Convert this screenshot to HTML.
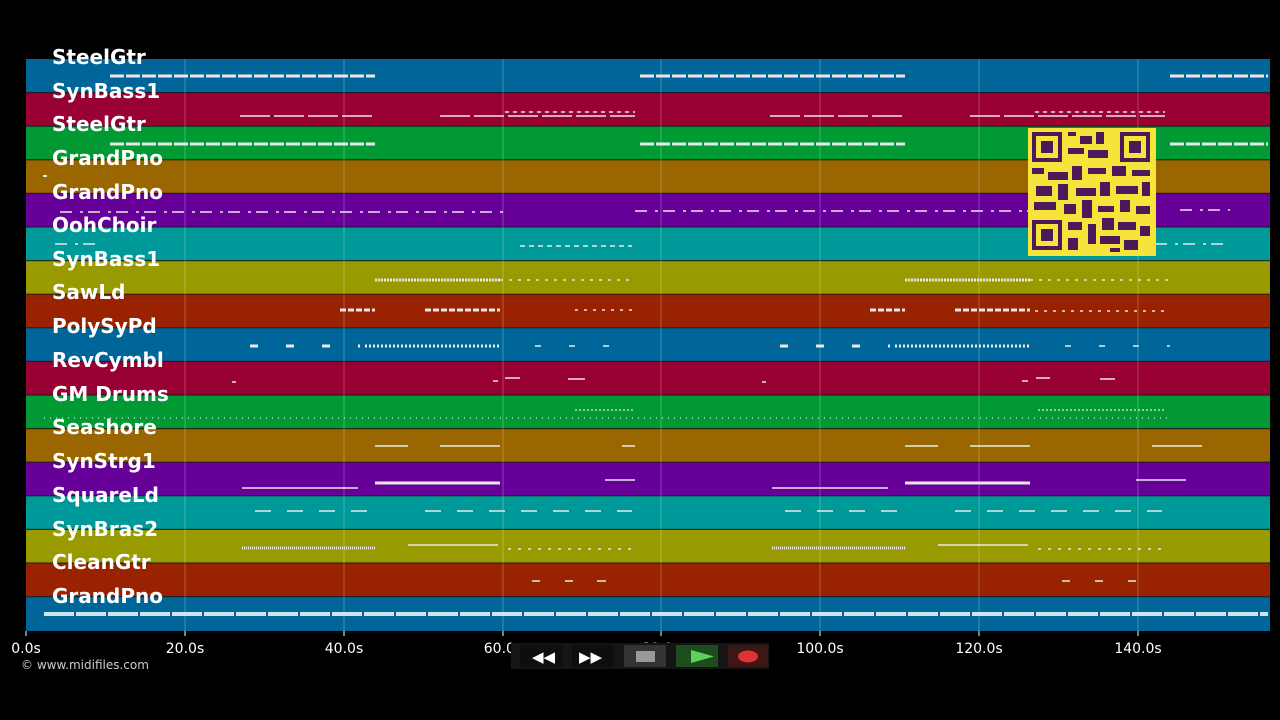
<!DOCTYPE html>
<html><head><meta charset="utf-8"><style>
html,body{margin:0;padding:0;background:#000;width:1280px;height:720px;overflow:hidden}
svg{display:block}
</style></head><body>
<svg width="1280" height="720" xmlns="http://www.w3.org/2000/svg" font-family="'DejaVu Sans','Liberation Sans',sans-serif">
<rect width="1280" height="720" fill="#000"/>
<g id="bands">
<rect x="26" y="59" width="1244" height="33.6" fill="#006699"/>
<rect x="26" y="92.6" width="1244" height="33.6" fill="#990033"/>
<rect x="26" y="126.2" width="1244" height="33.6" fill="#009933"/>
<rect x="26" y="159.8" width="1244" height="33.6" fill="#996600"/>
<rect x="26" y="193.4" width="1244" height="33.6" fill="#660099"/>
<rect x="26" y="227" width="1244" height="33.6" fill="#009999"/>
<rect x="26" y="260.6" width="1244" height="33.6" fill="#999900"/>
<rect x="26" y="294.2" width="1244" height="33.6" fill="#992200"/>
<rect x="26" y="327.8" width="1244" height="33.6" fill="#006699"/>
<rect x="26" y="361.4" width="1244" height="33.6" fill="#990033"/>
<rect x="26" y="395" width="1244" height="33.6" fill="#009933"/>
<rect x="26" y="428.6" width="1244" height="33.6" fill="#996600"/>
<rect x="26" y="462.2" width="1244" height="33.6" fill="#660099"/>
<rect x="26" y="495.8" width="1244" height="33.6" fill="#009999"/>
<rect x="26" y="529.4" width="1244" height="33.6" fill="#999900"/>
<rect x="26" y="563" width="1244" height="33.6" fill="#992200"/>
<rect x="26" y="596.6" width="1244" height="34.4" fill="#006699"/>
</g>
<g stroke="#1a1a1a" stroke-width="1.2" opacity="0.8">
<line x1="26" x2="1270" y1="92.6" y2="92.6"/><line x1="26" x2="1270" y1="126.2" y2="126.2"/><line x1="26" x2="1270" y1="159.8" y2="159.8"/><line x1="26" x2="1270" y1="193.4" y2="193.4"/><line x1="26" x2="1270" y1="227" y2="227"/><line x1="26" x2="1270" y1="260.6" y2="260.6"/><line x1="26" x2="1270" y1="294.2" y2="294.2"/><line x1="26" x2="1270" y1="327.8" y2="327.8"/><line x1="26" x2="1270" y1="361.4" y2="361.4"/><line x1="26" x2="1270" y1="395" y2="395"/><line x1="26" x2="1270" y1="428.6" y2="428.6"/><line x1="26" x2="1270" y1="462.2" y2="462.2"/><line x1="26" x2="1270" y1="495.8" y2="495.8"/><line x1="26" x2="1270" y1="529.4" y2="529.4"/><line x1="26" x2="1270" y1="563" y2="563"/><line x1="26" x2="1270" y1="596.6" y2="596.6"/>
</g>
<g stroke="#ffffff" stroke-opacity="0.25" stroke-width="1">
<line x1="185" x2="185" y1="59" y2="631"/><line x1="344" x2="344" y1="59" y2="631"/><line x1="503" x2="503" y1="59" y2="631"/><line x1="661" x2="661" y1="59" y2="631"/><line x1="820" x2="820" y1="59" y2="631"/><line x1="979" x2="979" y1="59" y2="631"/><line x1="1138" x2="1138" y1="59" y2="631"/>
</g>
<g stroke="#e8e8e8" fill="none" stroke-linecap="butt">
<g stroke-width="3" stroke-dasharray="14 2">
<line x1="110" x2="375" y1="76" y2="76"/><line x1="640" x2="905" y1="76" y2="76"/><line x1="1170" x2="1268" y1="76" y2="76"/>
<line x1="110" x2="375" y1="144" y2="144"/><line x1="640" x2="905" y1="144" y2="144"/><line x1="1170" x2="1268" y1="144" y2="144"/>
</g>
<g stroke-width="1.5" stroke-dasharray="30 4">
<line x1="240" x2="375" y1="116" y2="116"/><line x1="440" x2="635" y1="116" y2="116"/><line x1="770" x2="905" y1="116" y2="116"/><line x1="970" x2="1165" y1="116" y2="116"/>
</g>
<g stroke-width="1.5" stroke-dasharray="4 4">
<line x1="505" x2="635" y1="112" y2="112"/><line x1="1035" x2="1165" y1="112" y2="112"/>
</g>
<line x1="43" x2="47" y1="176" y2="176" stroke-width="2"/>
<g stroke-width="1.5" stroke-dasharray="12 8 3 5">
<line x1="60" x2="505" y1="212" y2="212"/><line x1="635" x2="1030" y1="211" y2="211"/><line x1="1180" x2="1230" y1="210" y2="210"/>
<line x1="55" x2="100" y1="244" y2="244"/><line x1="1155" x2="1230" y1="244" y2="244"/>
</g>
<line x1="520" x2="632" y1="246" y2="246" stroke-width="1.5" stroke-dasharray="5 4"/>
<g stroke-width="3" stroke-dasharray="2 1">
<line x1="375" x2="500" y1="280" y2="280"/><line x1="905" x2="1030" y1="280" y2="280"/>
</g>
<g stroke-width="1.5" stroke-dasharray="3 6">
<line x1="500" x2="635" y1="280" y2="280"/><line x1="1030" x2="1170" y1="280" y2="280"/>
<line x1="575" x2="635" y1="310" y2="310"/><line x1="1035" x2="1170" y1="311" y2="311"/>
</g>
<g stroke-width="3" stroke-dasharray="6 2">
<line x1="340" x2="375" y1="310" y2="310"/><line x1="425" x2="500" y1="310" y2="310"/><line x1="870" x2="905" y1="310" y2="310"/><line x1="955" x2="1030" y1="310" y2="310"/>
</g>
<g stroke-width="3" stroke-dasharray="8 28">
<line x1="250" x2="360" y1="346" y2="346"/><line x1="780" x2="890" y1="346" y2="346"/>
</g>
<g stroke-width="3" stroke-dasharray="2 2">
<line x1="365" x2="500" y1="346" y2="346"/><line x1="895" x2="1030" y1="346" y2="346"/>
</g>
<g stroke-width="1.5" stroke-dasharray="6 28">
<line x1="535" x2="610" y1="346" y2="346"/><line x1="1065" x2="1170" y1="346" y2="346"/>
</g>
<g stroke-width="1.5">
<line x1="232" x2="236" y1="382" y2="382"/><line x1="493" x2="498" y1="381" y2="381"/><line x1="505" x2="520" y1="378" y2="378"/><line x1="568" x2="585" y1="379" y2="379"/><line x1="762" x2="766" y1="382" y2="382"/><line x1="1022" x2="1028" y1="381" y2="381"/><line x1="1036" x2="1050" y1="378" y2="378"/><line x1="1100" x2="1115" y1="379" y2="379"/>
</g>
<line x1="44" x2="1170" y1="418" y2="418" stroke-width="1.2" stroke-dasharray="1 5"/>
<g stroke-width="1.2" stroke-dasharray="2 2">
<line x1="575" x2="635" y1="410" y2="410"/><line x1="1038" x2="1165" y1="410" y2="410"/>
</g>
<g stroke-width="1.5">
<line x1="375" x2="408" y1="446" y2="446"/><line x1="440" x2="500" y1="446" y2="446"/><line x1="622" x2="635" y1="446" y2="446"/><line x1="905" x2="938" y1="446" y2="446"/><line x1="970" x2="1030" y1="446" y2="446"/><line x1="1152" x2="1202" y1="446" y2="446"/>
<line x1="242" x2="358" y1="488" y2="488"/><line x1="772" x2="888" y1="488" y2="488"/>
<line x1="605" x2="635" y1="480" y2="480"/><line x1="1136" x2="1186" y1="480" y2="480"/>
<line x1="408" x2="498" y1="545" y2="545"/><line x1="938" x2="1028" y1="545" y2="545"/>
</g>
<g stroke-width="3">
<line x1="375" x2="500" y1="483" y2="483"/><line x1="905" x2="1030" y1="483" y2="483"/>
</g>
<g stroke-width="1.5" stroke-dasharray="16 16">
<line x1="255" x2="367" y1="511" y2="511"/><line x1="425" x2="632" y1="511" y2="511"/><line x1="785" x2="897" y1="511" y2="511"/><line x1="955" x2="1162" y1="511" y2="511"/>
</g>
<g stroke-width="3" stroke-dasharray="1 1">
<line x1="242" x2="375" y1="548" y2="548"/><line x1="772" x2="905" y1="548" y2="548"/>
</g>
<g stroke-width="1.5" stroke-dasharray="3 7">
<line x1="508" x2="635" y1="549" y2="549"/><line x1="1038" x2="1168" y1="549" y2="549"/>
</g>
<g stroke-width="1.5">
<line x1="532" x2="540" y1="581" y2="581"/><line x1="565" x2="573" y1="581" y2="581"/><line x1="597" x2="606" y1="581" y2="581"/><line x1="1062" x2="1070" y1="581" y2="581"/><line x1="1095" x2="1103" y1="581" y2="581"/><line x1="1128" x2="1136" y1="581" y2="581"/>
</g>
<line x1="44" x2="1268" y1="614" y2="614" stroke-width="4" stroke="#cfe4ef" stroke-dasharray="30 2"/>
</g>
<g id="qr">
<rect x="1028" y="128" width="128" height="128" fill="#f6e43a"/>
<g fill="#4a1a5a">
<rect x="1032" y="132" width="30" height="30"/><rect x="1120" y="132" width="30" height="30"/><rect x="1032" y="220" width="30" height="30"/>
</g>
<g fill="#f6e43a">
<rect x="1036" y="136" width="22" height="22"/><rect x="1124" y="136" width="22" height="22"/><rect x="1036" y="224" width="22" height="22"/>
</g>
<g fill="#4a1a5a">
<rect x="1041" y="141" width="12" height="12"/><rect x="1129" y="141" width="12" height="12"/><rect x="1041" y="229" width="12" height="12"/>
<rect x="1068" y="132" width="8" height="4"/><rect x="1080" y="136" width="12" height="8"/><rect x="1096" y="132" width="8" height="12"/><rect x="1068" y="148" width="16" height="6"/><rect x="1088" y="150" width="20" height="8"/>
<rect x="1032" y="168" width="12" height="6"/><rect x="1048" y="172" width="20" height="8"/><rect x="1072" y="166" width="10" height="14"/><rect x="1088" y="168" width="18" height="6"/><rect x="1112" y="166" width="14" height="10"/><rect x="1132" y="170" width="18" height="6"/>
<rect x="1036" y="186" width="16" height="10"/><rect x="1058" y="184" width="10" height="16"/><rect x="1076" y="188" width="20" height="8"/><rect x="1100" y="182" width="10" height="14"/><rect x="1116" y="186" width="22" height="8"/><rect x="1142" y="182" width="8" height="14"/>
<rect x="1034" y="202" width="22" height="8"/><rect x="1064" y="204" width="12" height="10"/><rect x="1082" y="200" width="10" height="18"/><rect x="1098" y="206" width="16" height="6"/><rect x="1120" y="200" width="10" height="12"/><rect x="1136" y="206" width="14" height="8"/>
<rect x="1068" y="222" width="14" height="8"/><rect x="1088" y="224" width="8" height="20"/><rect x="1102" y="218" width="12" height="12"/><rect x="1118" y="222" width="18" height="8"/><rect x="1140" y="226" width="10" height="10"/>
<rect x="1068" y="238" width="10" height="12"/><rect x="1100" y="236" width="20" height="8"/><rect x="1124" y="240" width="14" height="10"/><rect x="1110" y="248" width="10" height="4"/>
</g>
</g>
<g fill="#ffffff" font-weight="bold" font-size="20">
<text x="52" y="64">SteelGtr</text>
<text x="52" y="98">SynBass1</text>
<text x="52" y="131">SteelGtr</text>
<text x="52" y="165">GrandPno</text>
<text x="52" y="199">GrandPno</text>
<text x="52" y="232">OohChoir</text>
<text x="52" y="266">SynBass1</text>
<text x="52" y="299">SawLd</text>
<text x="52" y="333">PolySyPd</text>
<text x="52" y="367">RevCymbl</text>
<text x="52" y="401">GM Drums</text>
<text x="52" y="434">Seashore</text>
<text x="52" y="468">SynStrg1</text>
<text x="52" y="502">SquareLd</text>
<text x="52" y="536">SynBras2</text>
<text x="52" y="569">CleanGtr</text>
<text x="52" y="603">GrandPno</text>
</g>
<g stroke="#ffffff" stroke-width="1">
<line x1="26" x2="26" y1="631" y2="636"/><line x1="185" x2="185" y1="631" y2="636"/><line x1="344" x2="344" y1="631" y2="636"/><line x1="503" x2="503" y1="631" y2="636"/><line x1="661" x2="661" y1="631" y2="636"/><line x1="820" x2="820" y1="631" y2="636"/><line x1="979" x2="979" y1="631" y2="636"/><line x1="1138" x2="1138" y1="631" y2="636"/>
</g>
<g fill="#ffffff" font-size="14" text-anchor="middle">
<text x="26" y="653">0.0s</text><text x="185" y="653">20.0s</text><text x="344" y="653">40.0s</text><text x="503" y="653">60.0s</text><text x="661" y="653">80.0s</text><text x="820" y="653">100.0s</text><text x="979" y="653">120.0s</text><text x="1138" y="653">140.0s</text>
</g>
<text x="21" y="669" fill="#cccccc" font-size="12">© www.midifiles.com</text>
<g>
<rect x="511" y="643" width="258" height="26" fill="#151515"/>
<rect x="520" y="645" width="42" height="22" fill="#0e0e0e"/>
<text x="532" y="662" fill="#fff" font-size="15" font-weight="bold">◀◀</text>
<rect x="572" y="645" width="42" height="22" fill="#0e0e0e"/>
<text x="579" y="662" fill="#fff" font-size="15" font-weight="bold">▶▶</text>
<rect x="624" y="645" width="42" height="22" fill="#333"/>
<rect x="636" y="651" width="19" height="11" fill="#999"/>
<rect x="676" y="645" width="42" height="22" fill="#1d4d1d"/>
<polygon points="691,650 714,656.5 691,663" fill="#5fd05f"/>
<rect x="728" y="645" width="40" height="22" fill="#3d1616"/>
<ellipse cx="748" cy="656.5" rx="10" ry="6" fill="#dd3333"/>
</g>
</svg>
</body></html>
